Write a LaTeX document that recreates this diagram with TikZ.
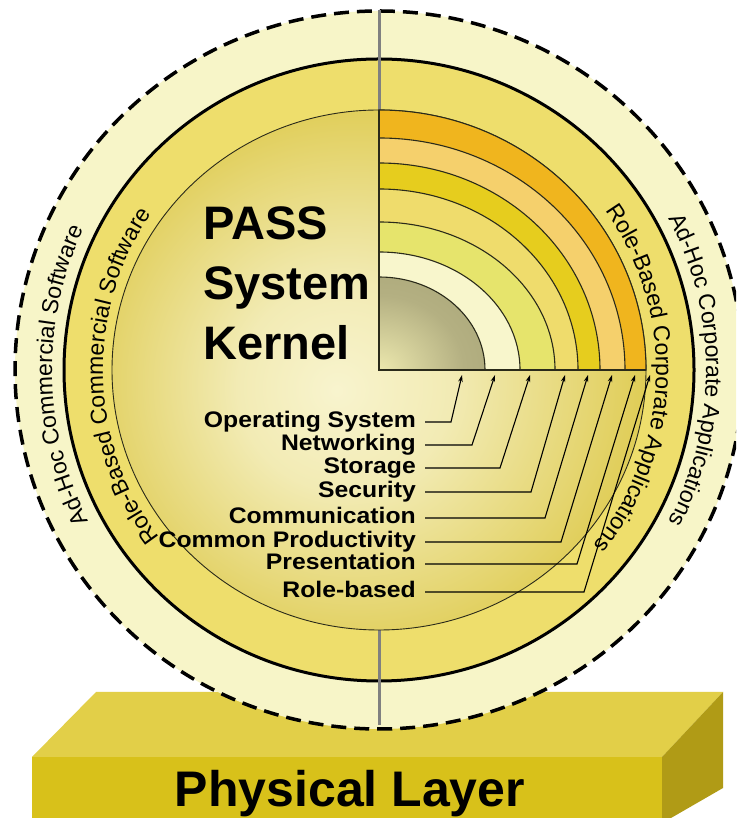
\documentclass[tikz,border=0pt]{standalone}
\usepackage{fontspec}
\setmainfont{Liberation Sans}
\newfontfamily\lblfamily[FakeStretch=1.1]{Liberation Sans}
\usetikzlibrary{decorations.text,arrows.meta}
\definecolor{outerring}{HTML}{F7F5C8}
\definecolor{midring}{HTML}{EEDE6C}
\definecolor{kA}{HTML}{F8F4CE}
\definecolor{kB}{HTML}{F2EBB4}
\definecolor{kC}{HTML}{DCC744}
\definecolor{kD}{HTML}{D4BA1A}
\definecolor{cA}{HTML}{ECE8AE}
\definecolor{cB}{HTML}{B4B082}
\definecolor{cC}{HTML}{9C9A6C}
\definecolor{bOrange}{HTML}{F0B51E}
\definecolor{bPeach}{HTML}{F5D06C}
\definecolor{bYellow}{HTML}{E6CD1E}
\definecolor{bPale}{HTML}{EFDC6C}
\definecolor{bGreen}{HTML}{E6E46C}
\definecolor{bCream}{HTML}{F8F6CC}
\definecolor{boxTop}{HTML}{E2CF48}
\definecolor{boxFront}{HTML}{D8C11A}
\definecolor{boxSide}{HTML}{B09B16}
\definecolor{arcline}{HTML}{2A2A1A}
\pgfdeclareradialshading{kernshade}{\pgfpoint{-4bp}{-2bp}}{color(0bp)=(kA); color(10bp)=(kB); color(30bp)=(kC); color(50bp)=(kD)}
\pgfdeclareradialshading{coreshade}{\pgfpoint{0bp}{0bp}}{color(0bp)=(cA); color(20bp)=(cB); color(50bp)=(cC)}
\newcommand\ringfont{\fontsize{23}{26}\selectfont}
\newcommand\qband[3]{\filldraw[fill=#3, draw=arcline, line width=1.1pt] (C) -- ++(#1,0) arc[start angle=0, end angle=90, x radius=#1, y radius=#2] -- cycle;}
\tikzset{
  lbl/.style={anchor=east, inner sep=0pt, text height=16pt, text depth=4pt,
    font=\lblfamily\bfseries\fontsize{22.5}{24}\selectfont},
  kern/.style={anchor=base west, inner sep=0pt, font=\bfseries\fontsize{47}{50}\selectfont},
  leader/.style={line width=1.1pt, draw=black, -{Stealth[length=7pt,width=4.5pt]}},
  ringtext/.style={decorate, decoration={text along path, text align=center, text={|\ringfont|#1}}}
}
\begin{document}
\begin{tikzpicture}[x=1pt,y=1pt]
\clip (0,0) rectangle (736,818);
\fill[white] (0,0) rectangle (736,818);
\coordinate (C) at (379,448);
% physical layer box
\fill[boxTop] (96,126) -- (723,126) -- (662,61) -- (32,61) -- cycle;
\fill[boxFront] (32,61) -- (662,61) -- (662,-5) -- (32,-5) -- cycle;
\fill[boxSide] (662,61) -- (723,126) -- (723,30) -- (671,0) -- (662,-5) -- cycle;
\node[anchor=base, inner sep=0pt, font=\bfseries\fontsize{50}{54}\selectfont] (phys) at (350,11) {Physical Layer};
% rings
\filldraw[fill=outerring, draw=black, line width=3.5pt, dash pattern=on 15pt off 8pt] (C) ellipse[x radius=364, y radius=359];
\filldraw[fill=midring, draw=black, line width=3pt] (C) ellipse[x radius=315, y radius=311];
\draw[line width=3pt, draw=gray] (379,808) -- (379,93);
\shade[shading=kernshade] (C) ellipse[x radius=267, y radius=260];
\draw[line width=0.9pt, draw=arcline] (C) ellipse[x radius=267, y radius=260];
% quadrant bands
\qband{267}{260}{bOrange}
\qband{246}{232}{bPeach}
\qband{221}{207}{bYellow}
\qband{199}{181}{bPale}
\qband{176}{148}{bGreen}
\qband{141}{118}{bCream}
\begin{scope}
\clip (C) -- ++(106,0) arc[start angle=0, end angle=90, x radius=106, y radius=93] -- cycle;
\shade[shading=coreshade] (C) ellipse[x radius=106, y radius=93];
\end{scope}
\draw[draw=arcline, line width=1.1pt] (C) ++(106,0) arc[start angle=0, end angle=90, x radius=106, y radius=93];
\draw[draw=arcline, line width=1.6pt] (379,708) -- (C) -- (646,448);
% kernel title
\node[kern] (pass1) at (203,578) {PASS};
\node[kern] (pass2) at (203,518) {System};
\node[kern] (pass3) at (203,458) {Kernel};
% labels
\node[lbl] (l1) at (416,396) {Operating System};
\node[lbl] (l2) at (416,373) {Networking};
\node[lbl] (l3) at (416,350) {Storage};
\node[lbl] (l4) at (416,326) {Security};
\node[lbl] (l5) at (416,300) {Communication};
\node[lbl] (l6) at (416,276) {Common Productivity};
\node[lbl] (l7) at (416,254) {Presentation};
\node[lbl] (l8) at (416,226) {Role-based};
\coordinate (k1) at (451,396); \coordinate (t1) at (462,443);
\coordinate (k2) at (472,373); \coordinate (t2) at (495,443);
\coordinate (k3) at (500,350); \coordinate (t3) at (530,443);
\coordinate (k4) at (531,326); \coordinate (t4) at (565,443);
\coordinate (k5) at (545,300); \coordinate (t5) at (588,443);
\coordinate (k6) at (561,276); \coordinate (t6) at (612,443);
\coordinate (k7) at (577,254); \coordinate (t7) at (635,443);
\coordinate (k8) at (584,226); \coordinate (t8) at (650,443);
\foreach \i in {1,...,8}{
  \draw[leader] ([xshift=9pt]l\i.east) -- (k\i) -- (t\i);
}
% ring texts
\path[ringtext={Ad-Hoc Commercial Software}] ([shift={(216:327)}]C) arc[start angle=216, end angle=146, radius=327];
\path[ringtext={Role-Based Commercial Software}] ([shift={(226:276)}]C) arc[start angle=226, end angle=137, radius=276];
\path[ringtext={Role-Based Corporate Applications}] ([shift={(42:277)}]C) arc[start angle=42, end angle=-46, radius=277];
\path[ringtext={Ad-Hoc Corporate Applications}] ([shift={(35:327)}]C) arc[start angle=35, end angle=-35, radius=327];
\end{tikzpicture}
\end{document}
